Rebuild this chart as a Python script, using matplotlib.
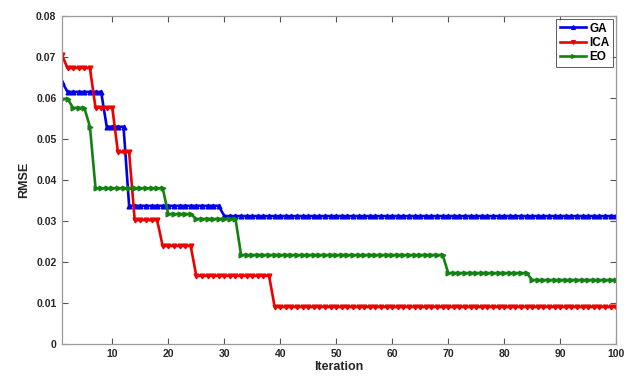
import matplotlib
matplotlib.use("Agg")
import matplotlib.pyplot as plt
import numpy as np

plt.rcParams['font.family'] = ['Liberation Sans', 'DejaVu Sans']

iterations = list(range(1, 101))

# step levels (value, number of iterations)
ga_runs = [(0.064, 1), (0.0615, 7), (0.053, 4), (0.0337, 17), (0.0312, 71)]
ica_runs = [(0.0705, 1), (0.0673, 5), (0.0576, 4), (0.0468, 3), (0.0302, 5),
            (0.0239, 6), (0.0166, 14), (0.009, 62)]
eo_runs = [(0.0598, 2), (0.0576, 3), (0.053, 1), (0.038, 13), (0.0317, 5),
           (0.0305, 8), (0.0217, 37), (0.0173, 15), (0.0156, 16)]

def expand(runs):
    out = []
    for v, n in runs:
        out += [v] * n
    return out

ga = expand(ga_runs)
ica = expand(ica_runs)
eo = expand(eo_runs)

x_ticks = [10, 20, 30, 40, 50, 60, 70, 80, 90, 100]
y_ticks = [0, 0.01, 0.02, 0.03, 0.04, 0.05, 0.06, 0.07, 0.08]
y_labels = ['0', '0.01', '0.02', '0.03', '0.04', '0.05', '0.06', '0.07', '0.08']

fig = plt.figure(figsize=(6.32, 3.83), dpi=100)
ax = fig.add_axes([0.098, 0.102, 0.877, 0.856])

ax.plot(iterations, ga, color='#0000e6', lw=1.9, marker='^', ms=3.4, label='GA')
ax.plot(iterations, ica, color='#ee0000', lw=1.9, marker='v', ms=3.4, label='ICA')
ax.plot(iterations, eo, color='#128212', lw=1.9, marker='>', ms=3.4, label='EO')

ax.set_xlim(1, 100)
ax.set_ylim(0, 0.08)
ax.set_xticks(x_ticks)
ax.set_yticks(y_ticks)
ax.set_yticklabels(y_labels)

for s in ax.spines.values():
    s.set_color('#9a9a9a')
    s.set_linewidth(0.9)
ax.tick_params(direction='in', length=4, width=0.8, color='#555555',
               top=True, right=True, labelsize=7.5, labelcolor='#262626', pad=4)
for lab in ax.get_xticklabels() + ax.get_yticklabels():
    lab.set_fontweight('bold')

ax.set_xlabel('Iteration', fontsize=9, fontweight='bold', color='#262626', labelpad=1)
ax.set_ylabel('RMSE', fontsize=9, fontweight='bold', color='#262626', labelpad=4)

leg = ax.legend(loc='upper right', prop={'weight': 'bold', 'size': 8.5},
                frameon=True, fancybox=False, edgecolor='#333333', borderpad=0.3,
                handlelength=2.2, handletextpad=0.3, labelspacing=0.2,
                borderaxespad=0.25, markerscale=0.8)
leg.get_frame().set_linewidth(0.7)

fig.savefig('out.png', dpi=100)
